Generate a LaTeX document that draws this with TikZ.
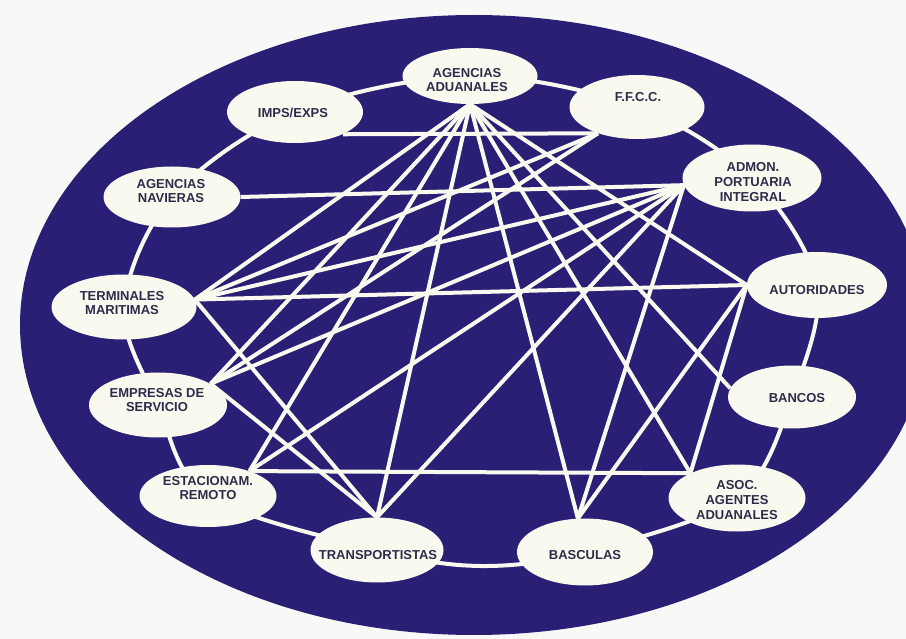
\documentclass[tikz,border=0pt]{standalone}
\usepackage{fontspec}
\setmainfont{Liberation Sans}
\usetikzlibrary{shapes.geometric,backgrounds}
\definecolor{navy}{RGB}{41,31,117}
\definecolor{cream}{RGB}{250,249,240}
\definecolor{txtc}{RGB}{45,45,75}
\definecolor{bgc}{RGB}{248,248,246}
\begin{document}
\begin{tikzpicture}[x=1pt,y=-1pt,
  bub/.style={ellipse, fill=cream, draw=none, inner sep=0pt},
  lbl/.style={font=\bfseries\fontsize{13}{14.8}\selectfont, text=txtc, align=center, inner sep=0pt},
  link/.style={draw=cream, line width=4pt},
  ring/.style={draw=cream, line width=4pt}]
\useasboundingbox (0,0) rectangle (906,639);
% bubbles
\node[bub, minimum width=135, minimum height=56] (aa) at (470,76) {};
\node[bub, minimum width=135, minimum height=64] (ffcc) at (637,107) {};
\node[bub, minimum width=136, minimum height=62] (imps) at (295,112) {};
\node[bub, minimum width=137, minimum height=61] (nav) at (172,197) {};
\node[bub, minimum width=145, minimum height=65] (term) at (124,307) {};
\node[bub, minimum width=138, minimum height=65] (emp) at (158,405) {};
\node[bub, minimum width=137, minimum height=62] (est) at (208,496) {};
\node[bub, minimum width=133, minimum height=65] (tr) at (377,550) {};
\node[bub, minimum width=136, minimum height=67] (bas) at (585,552) {};
\node[bub, minimum width=137, minimum height=67] (asoc) at (737,498) {};
\node[bub, minimum width=128, minimum height=63] (banc) at (792,397) {};
\node[bub, minimum width=140, minimum height=66] (aut) at (817,285) {};
\node[bub, minimum width=139, minimum height=67] (admon) at (752,178) {};
% labels
\node[lbl] (aa-t) at (467,80) {AGENCIAS\\ADUANALES};
\node[lbl] (ffcc-t) at (638,97) {F.F.C.C.};
\node[lbl] (imps-t) at (293,113) {IMPS/EXPS};
\node[lbl] (nav-t) at (171,191) {AGENCIAS\\NAVIERAS};
\node[lbl] (term-t) at (122,303) {TERMINALES\\MARITIMAS};
\node[lbl] (emp-t) at (157,400) {EMPRESAS DE\\SERVICIO};
\node[lbl] (est-t) at (208,488) {ESTACIONAM.\\REMOTO};
\node[lbl] (tr-t) at (378,555) {TRANSPORTISTAS};
\node[lbl] (bas-t) at (585,555) {BASCULAS};
\node[lbl] (asoc-t) at (737,500) {ASOC.\\AGENTES\\ADUANALES};
\node[lbl] (banc-t) at (797,398) {BANCOS};
\node[lbl] (aut-t) at (817,290) {AUTORIDADES};
\node[lbl] (admon-t) at (753,182) {ADMON.\\PORTUARIA\\INTEGRAL};
\begin{pgfonlayer}{background}
\fill[bgc] (0,0) rectangle (906,639);
\fill[navy] (474,325) ellipse [x radius=454, y radius=310];
\draw[ring] plot[smooth cycle, tension=0.55] coordinates {(470,76) (637,107) (752,178) (817,285) (792,397) (737,498) (585,552) (481,566) (377,550) (208,496) (158,405) (124,307) (172,197) (295,112)};
% horizontal-ish links
\draw[link] (imps.335) -- (ffcc.214);
\draw[link] (nav.east) -- (admon.186);
\draw[link] (term.6) -- (aut.west);
\draw[link] (est.31) -- (asoc.152);
% from agencias aduanales
\foreach \t in {term.6, emp.22, est.31, tr.north, bas.102, asoc.152, banc.172, aut.west}
  \draw[link] (aa.south) -- (\t);
% from admon
\foreach \t in {term.6, emp.22, est.31, tr.north, bas.102}
  \draw[link] (admon.186) -- (\t);
% from ffcc
\foreach \t in {term.6, emp.22}
  \draw[link] (ffcc.214) -- (\t);
% others
\draw[link] (term.6) -- (tr.north);
\draw[link] (emp.22) -- (tr.north);
\draw[link] (aut.west) -- (bas.102);
\draw[link] (aut.west) -- (asoc.152);
\end{pgfonlayer}
\end{tikzpicture}
\end{document}
